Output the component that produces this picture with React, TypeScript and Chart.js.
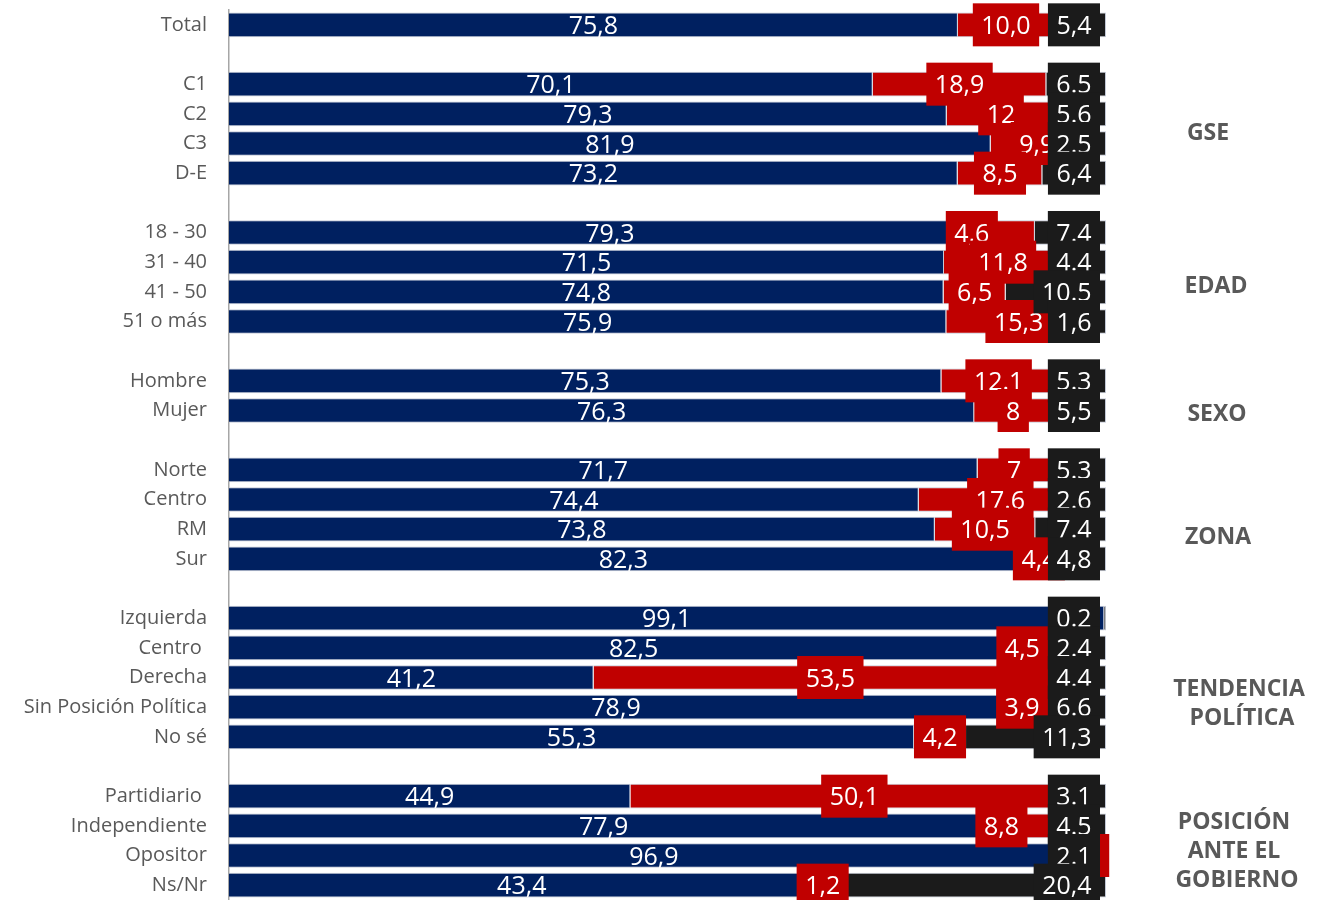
import React, { useEffect, useRef } from "react";
import { Chart, registerables } from "chart.js";

Chart.register(...registerables);

// ---------- DATA ----------
const categories = [
  "Total", "",
  "C1", "C2", "C3", "D-E", "",
  "18 - 30", "31 - 40", "41 - 50", "51 o más", "",
  "Hombre", "Mujer", "",
  "Norte", "Centro", "RM", "Sur", "",
  "Izquierda", "Centro ", "Derecha", "Sin Posición Política", "No sé", "",
  "Partidiario ", "Independiente", "Opositor", "Ns/Nr",
];

const seriesNames = ["Serie 1", "Serie 2", "Serie 3"];

const navyValues = [
  75.8, null,
  70.1, 79.3, 81.9, 73.2, null,
  79.3, 71.5, 74.8, 75.9, null,
  75.3, 76.3, null,
  71.7, 74.4, 73.8, 82.3, null,
  99.1, 82.5, 41.2, 78.9, 55.3, null,
  44.9, 77.9, 96.9, 43.4,
];

const redValues = [
  10.0, null,
  18.9, 12, 9.9, 8.5, null,
  4.6, 11.8, 6.5, 15.3, null,
  12.1, 8, null,
  7, 17.6, 10.5, 4.4, null,
  null, 4.5, 53.5, 3.9, 4.2, null,
  50.1, 8.8, 1.0, 1.2,
];

const blackValues = [
  5.4, null,
  6.5, 5.6, 2.5, 6.4, null,
  7.4, 4.4, 10.5, 1.6, null,
  5.3, 5.5, null,
  5.3, 2.6, 7.4, 4.8, null,
  0.2, 2.4, 4.4, 6.6, 11.3, null,
  3.1, 4.5, 2.1, 20.4,
];

// label texts exactly as printed in the chart
const navyLabels = [
  "75,8", "",
  "70,1", "79,3", "81,9", "73,2", "",
  "79,3", "71,5", "74,8", "75,9", "",
  "75,3", "76,3", "",
  "71,7", "74,4", "73,8", "82,3", "",
  "99,1", "82,5", "41,2", "78,9", "55,3", "",
  "44,9", "77,9", "96,9", "43,4",
];

const redLabels = [
  "10,0", "",
  "18,9", "12", "9,9", "8,5", "",
  "4,6", "11,8", "6,5", "15,3", "",
  "12.1", "8", "",
  "7", "17.6", "10,5", "4,4", "",
  "", "4,5", "53,5", "3,9", "4,2", "",
  "50,1", "8,8", "1,0", "1,2",
];

const blackLabels = [
  "5,4", "",
  "6.5", "5.6", "2.5", "6,4", "",
  "7.4", "4.4", "10.5", "1,6", "",
  "5.3", "5,5", "",
  "5.3", "2.6", "7.4", "4,8", "",
  "0.2", "2.4", "4.4", "6.6", "11,3", "",
  "3.1", "4.5", "2.1", "20,4",
];

// group titles on the right (row = position on category axis)
const groupTitles = [
  { lines: ["GSE"], row: 3.6, dx: 102 },
  { lines: ["EDAD"], row: 8.77, dx: 110 },
  { lines: ["SEXO"], row: 13.07, dx: 111 },
  { lines: ["ZONA"], row: 17.23, dx: 112 },
  { lines: ["TENDENCIA", " POLÍTICA"], row: 22.84, dx: 133 },
  { lines: ["POSICIÓN ", "ANTE EL ", "GOBIERNO"], row: 27.81, dx: 131 },
];

// manual label nudges (px) for some red labels, as in the original
const redLabelNudge: Record<number, number> = { 7: -41, 21: -38, 27: -19 };

// ---------- STYLE ----------
const FONT = '"Open Sans", "Noto Sans", sans-serif';
const NAVY = "#002060";
const RED = "#c00000";
const BLACK = "#1b1b1b";
const BORDER = "#c3c9d6";

const rowTotals = categories.map(
  (_, i) => (navyValues[i] ?? 0) + (redValues[i] ?? 0) + (blackValues[i] ?? 0)
);
const toShare = (arr: (number | null)[]) =>
  arr.map((v, i) => (v == null || !rowTotals[i] ? null : (v / rowTotals[i]) * 100));

const labelPlugin = {
  id: "barLabels",
  afterDatasetsDraw(chart: any) {
    const ctx = chart.ctx as CanvasRenderingContext2D;
    const area = chart.chartArea;
    ctx.save();
    ctx.font = `25px ${FONT}`;
    ctx.textBaseline = "alphabetic";
    ctx.textAlign = "center";
    const capOff = 9;
    const boxH = 43;
    const pad = 8.5;

    const drawBox = (text: string, cx: number, cy: number, bg: string) => {
      const w = ctx.measureText(text).width + pad * 2;
      ctx.fillStyle = bg;
      ctx.fillRect(cx - w / 2, cy - boxH / 2, w, boxH);
      ctx.fillStyle = "#ffffff";
      ctx.fillText(text, cx, cy + capOff);
    };

    // navy labels: plain white centered text
    chart.getDatasetMeta(0).data.forEach((el: any, i: number) => {
      const t = navyLabels[i];
      if (!t) return;
      const p = el.getProps(["x", "base", "y"], true);
      ctx.fillStyle = "#ffffff";
      ctx.fillText(t, (p.x + p.base) / 2, p.y + capOff);
    });

    // red labels: boxed, centered in segment
    chart.getDatasetMeta(1).data.forEach((el: any, i: number) => {
      const t = redLabels[i];
      if (!t) return;
      const p = el.getProps(["x", "base", "y"], true);
      const cx = (p.x + p.base) / 2 + (redLabelNudge[i] ?? 0);
      drawBox(t, cx, p.y, RED);
    });

    // black labels: boxed, aligned to the end of the bar
    chart.getDatasetMeta(2).data.forEach((el: any, i: number) => {
      const t = blackLabels[i];
      if (!t) return;
      const p = el.getProps(["y"], true);
      const w = ctx.measureText(t).width + pad * 2;
      const right = area.right - 6;
      drawBox(t, right - w / 2, p.y, BLACK);
    });
    ctx.restore();
  },
  afterDraw(chart: any) {
    const ctx = chart.ctx as CanvasRenderingContext2D;
    const area = chart.chartArea;
    const yScale = chart.scales.y;
    ctx.save();
    ctx.font = `bold 23px ${FONT}`;
    ctx.fillStyle = "#595959";
    ctx.textAlign = "center";
    ctx.textBaseline = "alphabetic";
    const lh = 29.3;
    groupTitles.forEach((g) => {
      const yc = yScale.getPixelForValue(g.row);
      const n = g.lines.length;
      g.lines.forEach((line, k) => {
        const y = yc + (k - (n - 1) / 2) * lh;
        ctx.fillText(line, area.right + g.dx, y + 8.2);
      });
    });
    ctx.restore();
  },
};

export default function App() {
  const canvasRef = useRef<HTMLCanvasElement | null>(null);

  useEffect(() => {
    if (!canvasRef.current) return;
    const mk = (label: string, values: (number | null)[], color: string) => ({
      label,
      data: toShare(values),
      backgroundColor: color,
      borderColor: BORDER,
      borderWidth: 1,
      barPercentage: 0.83,
      categoryPercentage: 1,
    });
    const chart = new Chart(canvasRef.current, {
      type: "bar",
      data: {
        labels: categories,
        datasets: [
          mk(seriesNames[0], navyValues, NAVY),
          mk(seriesNames[1], redValues, RED),
          mk(seriesNames[2], blackValues, BLACK),
        ],
      },
      options: {
        indexAxis: "y",
        animation: false,
        responsive: true,
        maintainAspectRatio: false,
        layout: { padding: { top: 10, right: 231, bottom: 0, left: 0 } },
        plugins: {
          legend: { display: false },
          tooltip: { enabled: false },
        },
        scales: {
          x: {
            stacked: true,
            min: 0,
            max: 100,
            display: false,
          },
          y: {
            stacked: true,
            grid: { display: false, drawTicks: false },
            border: { display: true, color: "#a6a6a6", width: 1.5 },
            ticks: {
              autoSkip: false,
              padding: 22,
              color: "#595959",
              font: { family: FONT, size: 20 },
            },
            afterFit(scale: any) {
              scale.width = 229;
              scale.paddingTop = 0;
              scale.paddingBottom = 0;
            },
          },
        },
      },
      plugins: [labelPlugin],
    } as any);
    return () => chart.destroy();
  }, []);

  return (
    <div
      style={{
        position: "absolute",
        left: 0,
        top: 0,
        width: 1337,
        height: 900,
        background: "#ffffff",
      }}
    >
      <canvas ref={canvasRef} />
    </div>
  );
}
